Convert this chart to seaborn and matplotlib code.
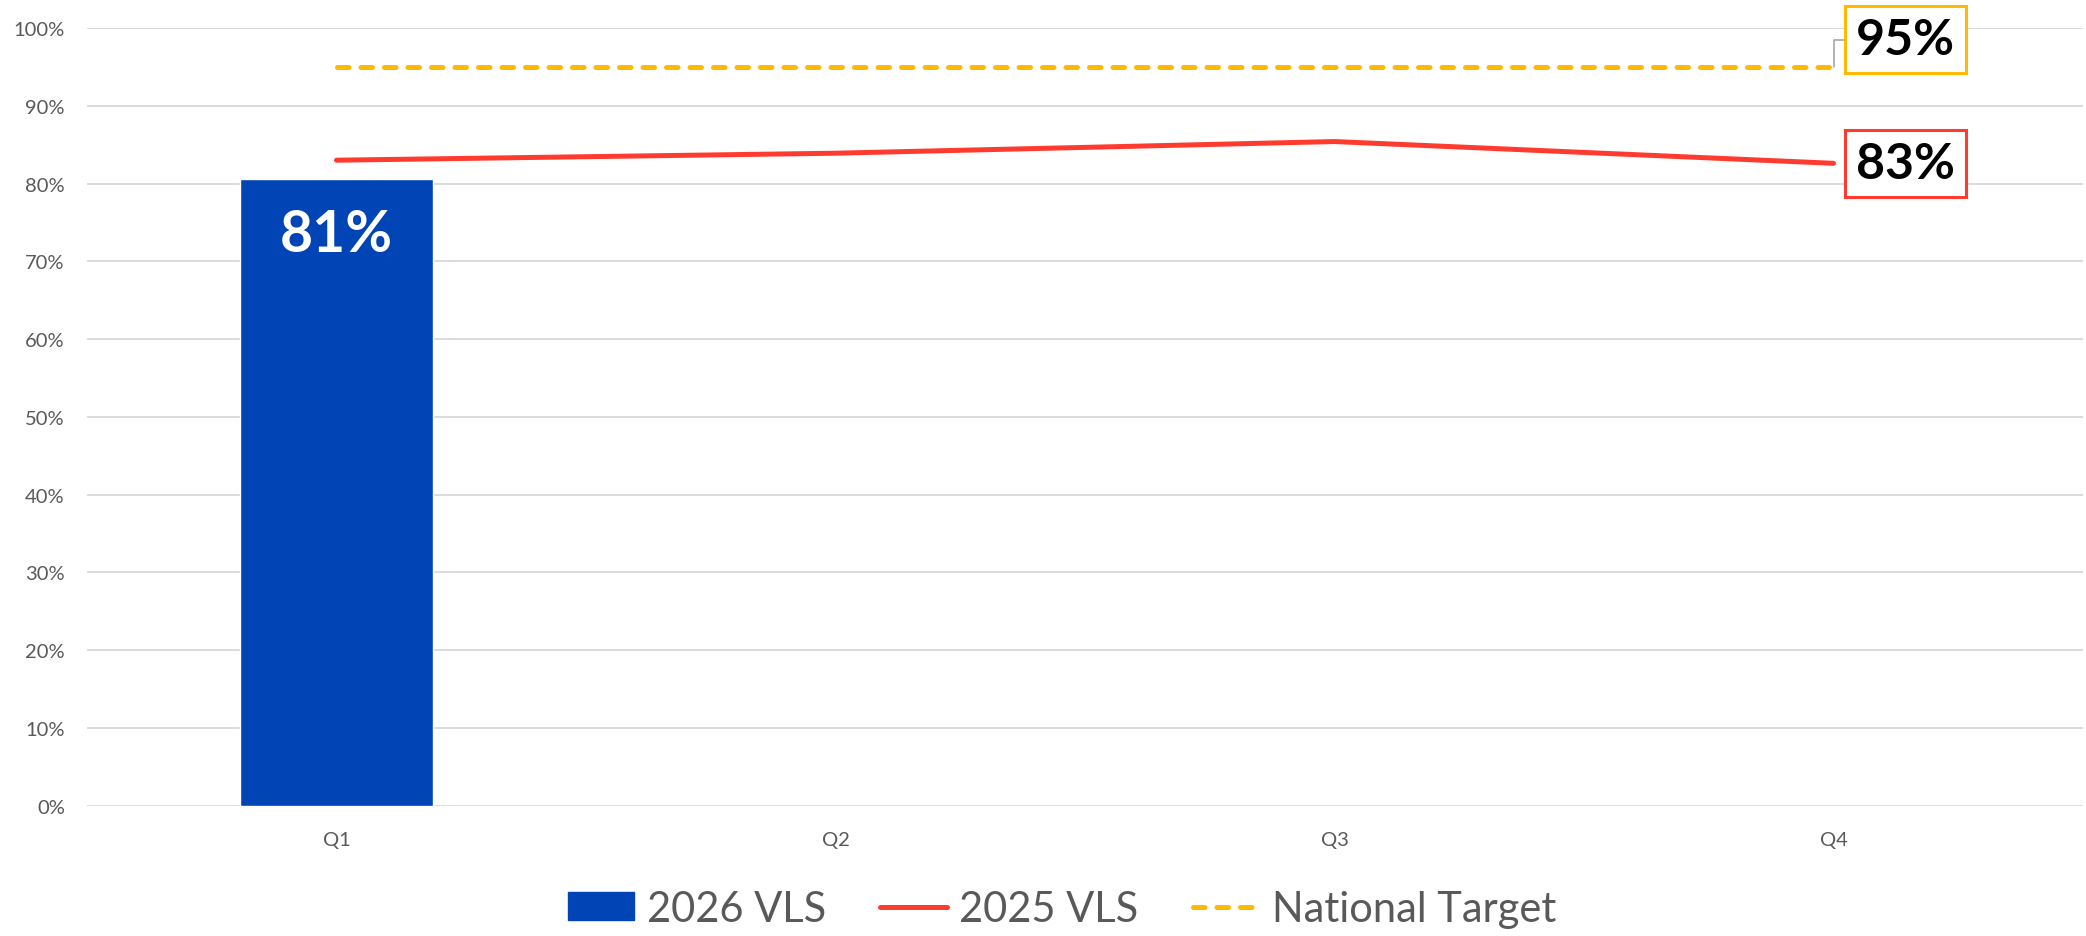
import matplotlib
matplotlib.use("Agg")
import matplotlib.pyplot as plt
from matplotlib.patches import Patch
from matplotlib.lines import Line2D
import seaborn as sns
import pandas as pd
import numpy as np

quarters = ["Q1", "Q2", "Q3", "Q4"]
vls_2026 = [80.6, np.nan, np.nan, np.nan]
vls_2025 = [83.0, 83.9, 85.4, 82.6]
national_target = [95, 95, 95, 95]

blue = "#0044B5"
red = "#FF3B30"
gold = "#FFB900"
grey_txt = "#595959"

sns.set_style("white")
plt.rcParams["font.family"] = ["Lato", "DejaVu Sans"]

df = pd.DataFrame({"quarter": quarters, "v2026": vls_2026,
                   "v2025": vls_2025, "target": national_target})

dash = (0, (2.3, 2.4))

fig = plt.figure(figsize=(20.86, 9.37), dpi=100)
ax = fig.add_axes([87 / 2086, 1 - 806.7 / 937, 1996 / 2086, (806.7 - 29) / 937])

sns.barplot(data=df, x="quarter", y="v2026", order=quarters, color=blue,
            width=0.385, saturation=1, ax=ax, zorder=2)
sns.lineplot(data=df, x="quarter", y="v2025", color=red, linewidth=3.6,
             solid_capstyle="round", ax=ax, zorder=3)
sns.lineplot(data=df, x="quarter", y="target", color=gold, linewidth=3.6,
             linestyle=dash, dash_capstyle="round", ax=ax, zorder=3)

ax.set_ylim(0, 100)
ax.set_yticks(np.arange(0, 101, 10))
ax.set_yticklabels([f"{v}%" for v in range(0, 101, 10)])
ax.set_xlim(-0.5, 3.5)
ax.set_xlabel("")
ax.set_ylabel("")
ax.grid(axis="y", color="#D9D9D9", linewidth=1.3)
ax.set_axisbelow(True)
for s in ax.spines.values():
    s.set_visible(False)
ax.tick_params(axis="both", length=0, labelcolor=grey_txt, labelsize=14.5)
ax.tick_params(axis="y", pad=16)
ax.tick_params(axis="x", pad=18)

# bar label
bar = ax.patches[0]
ax.text(bar.get_x() + bar.get_width() / 2, vls_2026[0] - 7.2,
        f"{vls_2026[0]:.0f}%", ha="center", va="center", color="white",
        fontsize=41, fontweight="bold")

# end labels
ax.annotate(f"{vls_2025[-1]:.0f}%", xy=(3, vls_2025[-1]), xytext=(52, 0),
            textcoords="offset points", ha="center", va="center",
            fontsize=36, fontweight="bold", color="black",
            bbox=dict(boxstyle="square,pad=0.22", fc="white", ec=red, lw=2.2))
ax.annotate(f"{national_target[-1]:.0f}%", xy=(3, national_target[-1]), xytext=(52, 19.5),
            textcoords="offset points", ha="center", va="center",
            fontsize=36, fontweight="bold", color="black",
            bbox=dict(boxstyle="square,pad=0.22", fc="white", ec=gold, lw=2.2),
            arrowprops=dict(arrowstyle="-", color="#A6A6A6", lw=1.2, shrinkA=0, shrinkB=0,
                            connectionstyle="angle,angleA=180,angleB=90,rad=0"))

handles = [
    Patch(facecolor=blue, edgecolor=blue),
    Line2D([0], [0], color=red, lw=3.6, solid_capstyle="round"),
    Line2D([0], [0], color=gold, lw=3.6, linestyle=dash, dash_capstyle="round"),
]
leg = fig.legend(handles, ["2026 VLS", "2025 VLS", "National Target"], loc="center",
                 bbox_to_anchor=(0.509, 27 / 937), ncol=3, frameon=False, fontsize=30,
                 handlelength=1.6, handleheight=0.65, handletextpad=0.3, columnspacing=1.3)
for t in leg.get_texts():
    t.set_color(grey_txt)

fig.savefig("out.png", dpi=100)
